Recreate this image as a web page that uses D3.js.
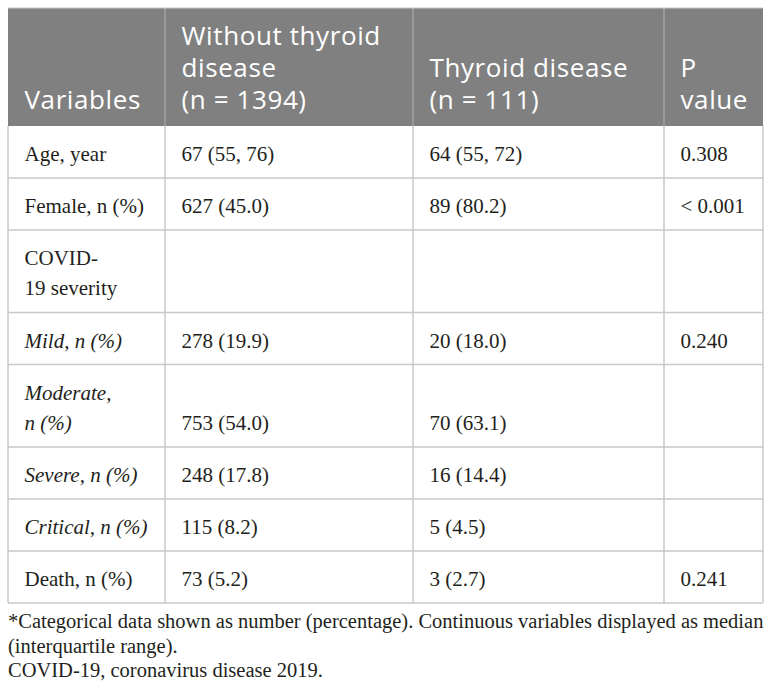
<!DOCTYPE html>
<html>
<head>
<meta charset="utf-8">
<script src="https://cdn.jsdelivr.net/npm/d3@7"></script>
<style>
  html, body { margin: 0; padding: 0; background: #fff; }
  svg { display: block; }
</style>
</head>
<body>
<div id="chart"></div>
<script>
// ---- data ----
const headers = [
  ["Variables"],
  ["Without thyroid", "disease", "(n = 1394)"],
  ["Thyroid disease", "(n = 111)"],
  ["P", "value"]
];
const rowLabels = [
  ["Age, year"],
  ["Female, n (%)"],
  ["COVID-", "19 severity"],
  ["Mild, n (%)"],
  ["Moderate,", "n (%)"],
  ["Severe, n (%)"],
  ["Critical, n (%)"],
  ["Death, n (%)"]
];
const italicRows = [false, false, false, true, true, true, true, false];
const withoutThyroid = ["67 (55, 76)", "627 (45.0)", "", "278 (19.9)", "753 (54.0)", "248 (17.8)", "115 (8.2)", "73 (5.2)"];
const thyroid = ["64 (55, 72)", "89 (80.2)", "", "20 (18.0)", "70 (63.1)", "16 (14.4)", "5 (4.5)", "3 (2.7)"];
const pValues = ["0.308", "< 0.001", "", "0.240", "", "", "", "0.241"];
const footnotes = [
  "*Categorical data shown as number (percentage). Continuous variables displayed as median",
  "(interquartile range).",
  "COVID-19, coronavirus disease 2019."
];

// ---- layout ----
const W = 772, H = 694;
const colEdges = [8, 165, 413, 664, 763];
const tableTop = 8, headerBottom = 126;
const rowBase = 52, rowExtra = 30.5;
const pad = 16.5;

const svg = d3.select("#chart").append("svg").attr("width", W).attr("height", H);

const colScale = d3.scaleOrdinal().domain(d3.range(4)).range(colEdges.slice(0, 4));

// row tops from line counts
const rowHeights = rowLabels.map(l => rowBase + rowExtra * (l.length - 1));
const rowTops = [];
rowHeights.reduce((acc, h) => { rowTops.push(acc); return acc + h; }, headerBottom);
const rowScale = d3.scaleOrdinal().domain(d3.range(rowLabels.length)).range(rowTops);
const tableBottom = rowTops[rowTops.length - 1] + rowHeights[rowHeights.length - 1];

// header background
svg.append("rect")
  .attr("x", colEdges[0]).attr("y", tableTop)
  .attr("width", colEdges[4] - colEdges[0]).attr("height", headerBottom - tableTop)
  .attr("fill", "#808080");

// header vertical separators
svg.selectAll("line.hsep").data(colEdges.slice(1, 4)).join("line")
  .attr("x1", d => d).attr("x2", d => d)
  .attr("y1", tableTop).attr("y2", headerBottom)
  .attr("stroke", "#a3a3a3").attr("stroke-width", 1.5);

// header text
const hdrLH = 32, hdrLastBase = headerBottom - 17;
headers.forEach((lines, ci) => {
  svg.append("g").selectAll("text").data(lines).join("text")
    .attr("x", colScale(ci) + pad)
    .attr("y", (d, i) => hdrLastBase - (lines.length - 1 - i) * hdrLH)
    .attr("fill", "#ffffff")
    .style("font-family", "'Open Sans', sans-serif")
    .style("font-size", "26px")
    .style("letter-spacing", "0.6px")
    .text(d => d);
});

// body grid
const gridColor = "#c8c8c8";
svg.selectAll("line.rowline").data(rowTops.slice(1).concat([tableBottom])).join("line")
  .attr("x1", colEdges[0]).attr("x2", colEdges[4])
  .attr("y1", d => d).attr("y2", d => d)
  .attr("stroke", gridColor).attr("stroke-width", 1.5);
svg.selectAll("line.colline").data(colEdges).join("line")
  .attr("x1", d => d).attr("x2", d => d)
  .attr("y1", headerBottom).attr("y2", tableBottom)
  .attr("stroke", gridColor).attr("stroke-width", 1.5);
svg.append("line").attr("x1", colEdges[0]).attr("x2", colEdges[4]).attr("y1", tableTop).attr("y2", tableTop)
  .attr("stroke", gridColor).attr("stroke-width", 1);

// body text
const bodyFont = "'Liberation Serif', 'Times New Roman', serif";
const bodyColor = "#231f20";
const firstBase = 35, bodyLH = 30;
const body = svg.append("g");
rowLabels.forEach((lines, ri) => {
  const top = rowScale(ri);
  body.append("g").selectAll("text").data(lines).join("text")
    .attr("x", colScale(0) + pad)
    .attr("y", (d, i) => top + firstBase + i * bodyLH)
    .attr("fill", bodyColor)
    .style("font-family", bodyFont)
    .style("font-size", "21px")
    .style("font-style", italicRows[ri] ? "italic" : "normal")
    .text(d => d);
  const lastBase = top + firstBase + (lines.length - 1) * bodyLH;
  [withoutThyroid, thyroid, pValues].forEach((col, k) => {
    if (!col[ri]) return;
    body.append("text")
      .attr("x", colScale(k + 1) + pad)
      .attr("y", lastBase)
      .attr("fill", bodyColor)
      .style("font-family", bodyFont)
      .style("font-size", "21px")
      .text(col[ri]);
  });
});

// footnotes
svg.append("g").selectAll("text").data(footnotes).join("text")
  .attr("x", 8)
  .attr("y", (d, i) => tableBottom + 25 + i * 24.5)
  .attr("fill", bodyColor)
  .style("font-family", bodyFont)
  .style("font-size", "20.5px")
  .text(d => d);
</script>
</body>
</html>
